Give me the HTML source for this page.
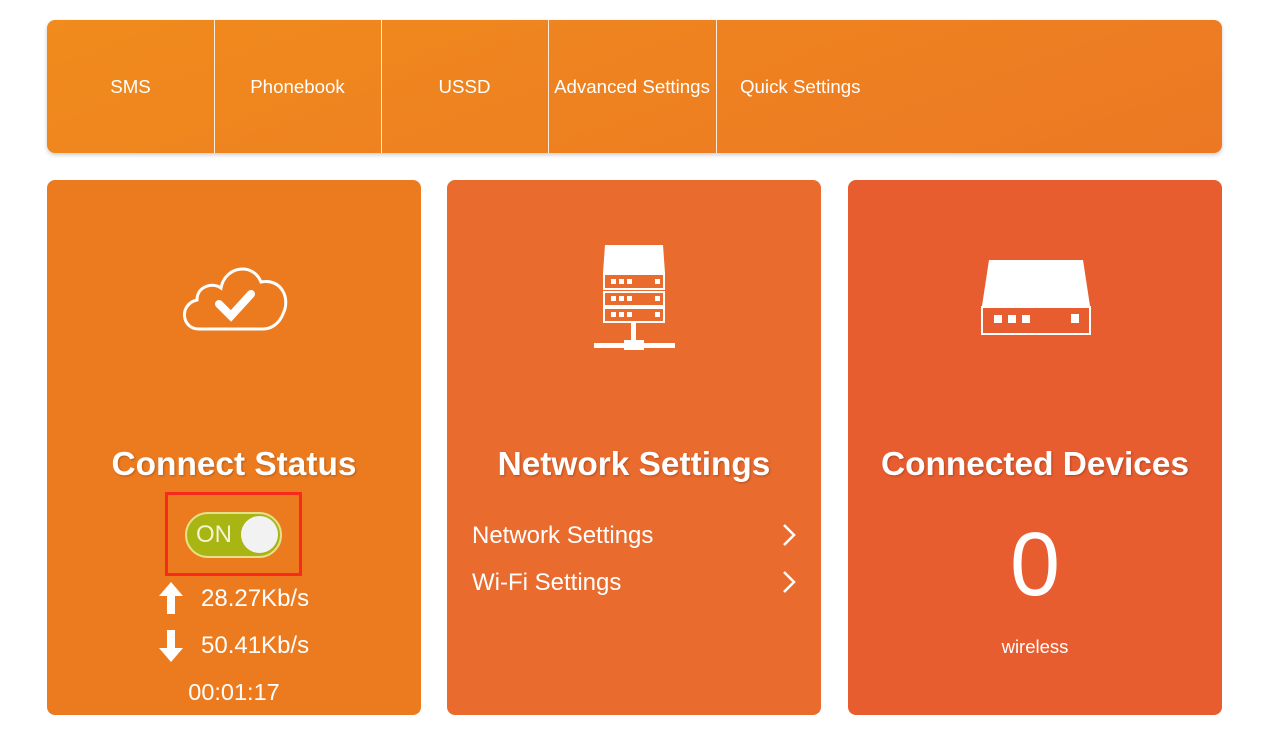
<!DOCTYPE html>
<html><head><style>
body{margin:0;width:1268px;height:729px;background:#fff;font-family:"Liberation Sans",Arial,sans-serif;position:relative;overflow:hidden;color:#fff}
.top{position:absolute;left:47px;top:20px;width:1175px;height:133px;border-radius:8px;background:linear-gradient(160deg,#f08b1c,#ec7824);box-shadow:0 2px 4px rgba(0,0,0,.2)}
.tab{position:absolute;top:0;height:133px;line-height:133px;text-align:center;font-size:18.7px;border-right:1px solid rgba(255,255,255,.85)}
.card{position:absolute;top:180px;height:535px;border-radius:8px}
.h{position:absolute;left:0;right:0;text-align:center;font-weight:bold;font-size:33.4px;top:266px;text-shadow:1px 1px 2px rgba(0,0,0,.25)}
.t{position:absolute;font-size:24px}
</style></head><body>
<div class="top">
<div class="tab" style="left:0;width:167px">SMS</div>
<div class="tab" style="left:167px;width:167px">Phonebook</div>
<div class="tab" style="left:334px;width:167px">USSD</div>
<div class="tab" style="left:501px;width:168px">Advanced Settings</div>
<div style="position:absolute;left:693px;top:0;line-height:133px;font-size:18.7px">Quick Settings</div>
</div>

<div class="card" style="left:47px;width:374px;background:#ec7b20">
<svg style="position:absolute;left:132px;top:80px" width="112" height="74" viewBox="0 0 112 74">
<path d="M20 69 C2 69 0 44 18 40 C18 26 34 22 42 28 C46 6 74 2 82 22 C102 18 112 38 104 54 C100 64 92 69 84 69 Z" fill="none" stroke="#fff" stroke-width="3"/>
<path d="M40 44 L52 56 L72 34" fill="none" stroke="#fff" stroke-width="8" stroke-linecap="round"/>
</svg>
<div class="h">Connect Status</div>
<div style="position:absolute;left:118px;top:312px;width:137px;height:84px;border:3px solid #f62a1d;box-sizing:border-box"></div>
<div style="position:absolute;left:138px;top:332px;width:97px;height:46px;border-radius:23px;background:#a8b512;border:2px solid #e6e08a;box-sizing:border-box"></div>
<div style="position:absolute;left:149px;top:341px;font-size:24px;color:#f4f4d0">ON</div>
<div style="position:absolute;left:194px;top:336px;width:37px;height:37px;border-radius:50%;background:#f2f2f2"></div>
<svg style="position:absolute;left:112px;top:402px" width="24" height="32"><path d="M12 0 L24 14 L16 14 L16 32 L8 32 L8 14 L0 14Z" fill="#fff"/></svg>
<div class="t" style="left:154px;top:405px">28.27Kb/s</div>
<svg style="position:absolute;left:112px;top:450px" width="24" height="32"><path d="M8 0 L16 0 L16 18 L24 18 L12 32 L0 18 L8 18Z" fill="#fff"/></svg>
<div class="t" style="left:154px;top:452px">50.41Kb/s</div>
<div class="t" style="left:0;right:0;text-align:center;top:499px;font-size:23.5px">00:01:17</div>
</div>

<div class="card" style="left:447px;width:374px;background:#ea6b2e">
<svg style="position:absolute;left:146px;top:64px" width="84" height="110" viewBox="0 0 84 110">
<path d="M12 1 L70 1 L72 29 L10 29Z" fill="#fff"/>
<g fill="none" stroke="#fff" stroke-width="2"><rect x="11" y="30" width="60" height="15"/><rect x="11" y="48" width="60" height="14"/><rect x="11" y="64" width="60" height="14"/></g>
<g fill="#fff"><rect x="18" y="35" width="5" height="5"/><rect x="26" y="35" width="5" height="5"/><rect x="34" y="35" width="5" height="5"/><rect x="62" y="35" width="5" height="5"/>
<rect x="18" y="52" width="5" height="5"/><rect x="26" y="52" width="5" height="5"/><rect x="34" y="52" width="5" height="5"/><rect x="62" y="52" width="5" height="5"/>
<rect x="18" y="68" width="5" height="5"/><rect x="26" y="68" width="5" height="5"/><rect x="34" y="68" width="5" height="5"/><rect x="62" y="68" width="5" height="5"/>
<rect x="38" y="79" width="5" height="20"/><rect x="1" y="99" width="81" height="5"/><rect x="31" y="96" width="20" height="10"/></g>
</svg>
<div class="h">Network Settings</div>
<div class="t" style="left:25px;top:342px">Network Settings</div>
<div class="t" style="left:25px;top:389px">Wi-Fi Settings</div>
<svg style="position:absolute;left:334px;top:343px" width="16" height="70"><path d="M3 2 L13 12 L3 22 M3 49 L13 59 L3 69" fill="none" stroke="#fff" stroke-width="2.5"/></svg>
</div>

<div class="card" style="left:848px;width:374px;background:#e85d2f">
<svg style="position:absolute;left:132px;top:78px" width="112" height="80" viewBox="0 0 112 80">
<path d="M9 2 L103 2 L110 48 L2 48Z" fill="#fff"/>
<rect x="2" y="49" width="108" height="27" fill="none" stroke="#fff" stroke-width="2"/>
<g fill="#fff"><rect x="14" y="57" width="8" height="8"/><rect x="28" y="57" width="8" height="8"/><rect x="42" y="57" width="8" height="8"/><rect x="91" y="56" width="8" height="9"/></g>
</svg>
<div class="h">Connected Devices</div>
<div style="position:absolute;left:0;right:0;text-align:center;top:334px;font-size:90px">0</div>
<div style="position:absolute;left:0;right:0;text-align:center;top:456px;font-size:18.5px">wireless</div>
</div>
</body></html>
